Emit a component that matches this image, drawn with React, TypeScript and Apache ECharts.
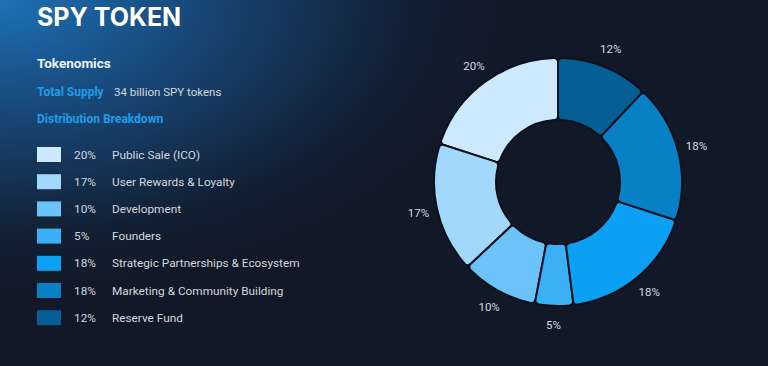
import React, { useEffect, useRef } from "react";
import * as echarts from "echarts";

const categories = [
  "Public Sale (ICO)",
  "User Rewards & Loyalty",
  "Development",
  "Founders",
  "Strategic Partnerships & Ecosystem",
  "Marketing & Community Building",
  "Reserve Fund",
];
const shares = [20, 17, 10, 5, 18, 18, 12];
const colors = ["#cde9fd", "#a2d8fb", "#6bc3f9", "#3cb0f7", "#0ba0f4", "#0780c6", "#055e94"];

const FONT = "Roboto, 'Noto Sans', sans-serif";
const TITLE_FONT = "Inter, Roboto, sans-serif";
const TEXT = "#d3d7de";

export default function App() {
  const ref = useRef<HTMLDivElement>(null);
  useEffect(() => {
    if (!ref.current) return;
    document.body.style.margin = "0";
    const chart = echarts.init(ref.current, undefined, { renderer: "svg" });
    const data = categories.map((name, i) => ({
      name,
      value: shares[i],
      itemStyle: { color: colors[i] },
    }));
    const shareOf: Record<string, number> = {};
    categories.forEach((c, i) => (shareOf[c] = shares[i]));
    chart.setOption({
      animation: false,
      backgroundColor: "transparent",
      textStyle: { fontFamily: FONT },
      legend: {
        orient: "vertical",
        left: 32,
        top: 142,
        icon: "rect",
        itemWidth: 24,
        itemHeight: 15,
        itemGap: 12.2,
        selectedMode: false,
        data: categories,
        itemStyle: { borderWidth: 0 },
        formatter: (name: string) => `{p|${shareOf[name]}%}{n|${name}}`,
        textStyle: {
          color: TEXT,
          fontSize: 11.8,
          fontFamily: FONT,
          rich: {
            p: { width: 38, padding: [0, 0, 0, 8], color: TEXT, fontSize: 11.8, fontFamily: FONT },
            n: { color: TEXT, fontSize: 11.8, fontFamily: FONT },
          },
        },
      },
      graphic: [
        {
          type: "text",
          left: 37,
          top: 4,
          style: { text: "SPY TOKEN", fill: "#ffffff", font: `700 25px ${TITLE_FONT}` },
        },
        {
          type: "text",
          left: 37,
          top: 56,
          style: { text: "Tokenomics", fill: "#eef1f5", font: `700 13.5px ${FONT}` },
        },
        {
          type: "text",
          left: 37,
          top: 86,
          style: { text: "Total Supply", fill: "#1e9de9", font: `700 12px ${FONT}` },
        },
        {
          type: "text",
          left: 114,
          top: 86,
          style: { text: "34 billion SPY tokens", fill: TEXT, font: `400 11.5px ${FONT}` },
        },
        {
          type: "text",
          left: 37,
          top: 113,
          style: { text: "Distribution Breakdown", fill: "#1e9de9", font: `700 12px ${FONT}` },
        },
      ],
      series: [
        {
          type: "pie",
          center: [558, 182],
          radius: [62, 124],
          startAngle: 90,
          clockwise: false,
          data,
          label: { show: false },
          labelLine: { show: false },
          itemStyle: { borderColor: "#0b111d", borderWidth: 2, borderRadius: 4 },
          emphasis: { disabled: true },
        },
        {
          type: "pie",
          center: [558, 182],
          radius: [130, 150],
          startAngle: 90,
          clockwise: false,
          silent: true,
          data: categories.map((name, i) => ({ name, value: shares[i] })),
          itemStyle: { color: "rgba(0,0,0,0)" },
          label: {
            show: true,
            position: "inside",
            formatter: "{c}%",
            color: "#d5dae2",
            fontSize: 11.5,
            fontFamily: FONT,
          },
          labelLine: { show: false },
          emphasis: { disabled: true },
        },
      ],
    });
    return () => chart.dispose();
  }, []);
  return (
    <div
      style={{
        position: "fixed",
        left: 0,
        top: 0,
        width: 768,
        height: 366,
        background:
          "radial-gradient(ellipse 520px 300px at 0% 0%, #1d72b5 0%, #1a5891 22%, #163b63 50%, #122034 78%, #111827 100%), #111827",
      }}
    >
      <div ref={ref} style={{ width: 768, height: 366 }} />
    </div>
  );
}
